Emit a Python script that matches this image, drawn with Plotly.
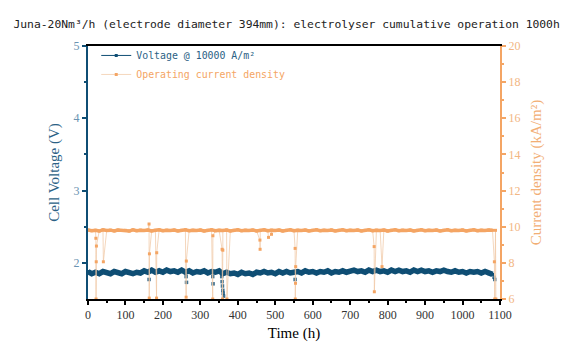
import plotly.graph_objects as go

# ---------------- data ----------------
time_h = [0, 10, 20, 30, 40, 50, 60, 70, 80, 90, 100, 110, 120, 130, 140,
          150, 160, 170, 180, 190, 200, 210, 220, 230, 240, 250,
          260, 270, 280, 290, 300, 310, 320, 330, 340, 350,
          360, 370, 380, 390, 400, 410, 420, 430, 440, 450,
          460, 470, 480, 490, 500, 510, 520, 530, 540, 550,
          560, 570, 580, 590, 600, 610, 620, 630, 640, 650, 660, 670, 680, 690, 700,
          710, 720, 730, 740, 750, 760, 770, 780, 790, 800, 810, 820, 830, 840, 850,
          860, 870, 880, 890, 900, 910, 920, 930, 940, 950, 960,
          970, 980, 990, 1000, 1010, 1020, 1030, 1040, 1050, 1060, 1070, 1080]

voltage = [1.88, 1.85, 1.87, 1.85, 1.88, 1.86, 1.85, 1.88, 1.86, 1.85, 1.88, 1.86, 1.85, 1.87, 1.86,
           1.89, 1.87, 1.90, 1.87, 1.89, 1.87, 1.90, 1.88, 1.89, 1.87, 1.90,
           1.87, 1.89, 1.86, 1.88, 1.87, 1.89, 1.86, 1.88, 1.87, 1.89,
           1.85, 1.87, 1.85, 1.86, 1.84, 1.87, 1.85, 1.86, 1.84, 1.87,
           1.86, 1.88, 1.86, 1.87, 1.85, 1.88, 1.86, 1.88, 1.86, 1.87,
           1.88, 1.86, 1.89, 1.87, 1.88, 1.86, 1.88, 1.87, 1.89, 1.86, 1.88, 1.87, 1.89, 1.87, 1.88,
           1.90, 1.88, 1.89, 1.87, 1.90, 1.88, 1.90, 1.88, 1.89, 1.87, 1.90, 1.88, 1.90, 1.88, 1.89,
           1.87, 1.90, 1.88, 1.90, 1.88, 1.89, 1.87, 1.89, 1.88, 1.90, 1.88,
           1.87, 1.89, 1.87, 1.88, 1.86, 1.88, 1.87, 1.88, 1.86, 1.88, 1.85, 1.84]

current = [9.82, 9.78, 9.80, 9.76, 9.83, 9.79, 9.81, 9.77, 9.82, 9.79, 9.80, 9.76, 9.83, 9.78, 9.81,
           9.79, 9.82, 9.77, 9.80, 9.83, 9.78, 9.81, 9.79, 9.82, 9.77, 9.80,
           9.83, 9.78, 9.81, 9.79, 9.82, 9.76, 9.80, 9.83, 9.78, 9.81,
           9.79, 9.82, 9.77, 9.80, 9.83, 9.78, 9.81, 9.79, 9.82, 9.77,
           9.80, 9.83, 9.78, 9.81, 9.79, 9.82, 9.76, 9.80, 9.83, 9.78,
           9.81, 9.79, 9.82, 9.77, 9.80, 9.83, 9.78, 9.81, 9.79, 9.82, 9.77, 9.80, 9.83, 9.78, 9.81,
           9.79, 9.82, 9.77, 9.80, 9.83, 9.78, 9.81, 9.79, 9.82, 9.76, 9.80, 9.83, 9.78, 9.81, 9.79,
           9.82, 9.77, 9.80, 9.83, 9.78, 9.81, 9.79, 9.82, 9.77, 9.80, 9.83,
           9.78, 9.81, 9.79, 9.82, 9.77, 9.80, 9.83, 9.78, 9.81, 9.79, 9.82, 9.80]

# transient excursions (stops / load changes)
dip_time_v = [163, 262, 263, 333, 334, 357, 358, 359, 360, 361, 362, 553, 1084, 1086]
dip_voltage = [1.77, 1.81, 1.73, 1.81, 1.71, 1.81, 1.74, 1.68, 1.62, 1.58, 1.54, 1.77, 1.80, 1.77]

dip_time_c = [21, 21.5, 22, 22.5, 41, 163, 163.5, 164, 183, 183.5, 262, 262.5, 333, 333.5,
              358, 359, 360, 371, 459, 459.5, 482, 490, 553, 553.5, 554, 554.5,
              764, 764.5, 785, 1085, 1086, 1088, 1089]
dip_current = [9.36, 6.0, 8.06, 8.93, 8.06, 10.15, 6.05, 8.5, 6.05, 8.56, 6.1, 8.1, 6.0, 9.5,
               8.75, 6.0, 8.7, 6.0, 9.26, 8.75, 9.41, 9.58, 8.8, 6.0, 6.87, 7.79,
               8.9, 6.4, 7.79, 8.06, 6.0, 9.8, 6.0]

# ---------------- build ----------------
c_pairs = sorted(zip(time_h + dip_time_c, current + dip_current))
c_t = [p[0] for p in c_pairs]
c_v = [p[1] for p in c_pairs]

BLUE = "#0f4e74"
ORANGE = "#f4a564"
SERIF = "Liberation Serif"
MONO = "DejaVu Sans Mono"

fig = go.Figure()

# orange: thin light connecting line (legend) + thick band
fig.add_trace(go.Scatter(
    x=c_t, y=c_v, yaxis="y2", mode="lines+markers",
    name="<span style='color:#f4a564'>Operating current density</span>",
    line=dict(color="rgba(240,200,165,0.75)", width=1),
    marker=dict(color=ORANGE, size=3, symbol="square"),
    legendrank=2,
))
fig.add_trace(go.Scatter(
    x=time_h, y=current, yaxis="y2", mode="lines", showlegend=False,
    line=dict(color=ORANGE, width=3.5),
))

# blue: thick band + thin legend trace
fig.add_trace(go.Scatter(
    x=time_h, y=voltage, mode="lines", showlegend=False,
    line=dict(color=BLUE, width=5.5),
))
fig.add_trace(go.Scatter(
    x=time_h, y=voltage, mode="lines+markers",
    name="<span style='color:#2b5f85'>Voltage @ 10000 A/m²</span>",
    line=dict(color=BLUE, width=1),
    marker=dict(color=BLUE, size=3, symbol="square"),
    legendrank=1,
))
fig.add_trace(go.Scatter(
    x=dip_time_v, y=dip_voltage, mode="markers", showlegend=False,
    marker=dict(color=BLUE, size=3.5, symbol="square", opacity=0.8),
))

fig.update_layout(
    width=564, height=350,
    margin=dict(l=80, r=72, t=38, b=59, autoexpand=False),
    paper_bgcolor="white", plot_bgcolor="white",
    font=dict(family=SERIF),
    title=dict(
        text="Juna-20Nm³/h (electrode diameter 394mm): electrolyser cumulative operation 1000h",
        x=0.494, xanchor="center", y=0.954, yanchor="middle", yref="container",
        font=dict(family=MONO, size=11.35, color="#222222"),
    ),
    legend=dict(
        x=0.02, y=1.02, xanchor="left", yanchor="top",
        bgcolor="rgba(0,0,0,0)", itemwidth=30, tracegroupgap=0,
        font=dict(family=MONO, size=9.9),
    ),
    xaxis=dict(
        range=[0, 1100], dtick=100, tick0=0, automargin=False,
        showline=True, linecolor="black", linewidth=2, mirror=True,
        ticks="outside", ticklen=4, tickwidth=1.5, tickcolor="black",
        minor=dict(dtick=50, ticks="outside", ticklen=2, tickcolor="black"),
        showgrid=False, zeroline=False,
        tickfont=dict(family=SERIF, size=12, color="#333333"),
        title=dict(text="Time (h)", font=dict(family=SERIF, size=15, color="black"), standoff=6),
    ),
    yaxis=dict(
        range=[1.5, 5], tickvals=[2, 3, 4, 5], automargin=False,
        showline=True, linecolor=BLUE, linewidth=2,
        ticks="outside", ticklen=4, tickwidth=1.5, tickcolor=BLUE,
        minor=dict(tickvals=[2.5, 3.5, 4.5], ticks="outside", ticklen=2, tickcolor=BLUE),
        showgrid=False, zeroline=False,
        tickfont=dict(family=SERIF, size=12, color="#6a93b2"),
        title=dict(text="Cell Voltage (V)", font=dict(family=SERIF, size=15, color="#2b6185"), standoff=10),
    ),
    yaxis2=dict(
        range=[6, 20], dtick=2, tick0=0, overlaying="y", side="right", automargin=False,
        showline=True, linecolor=ORANGE, linewidth=2,
        ticks="outside", ticklen=4, tickwidth=1.5, tickcolor=ORANGE,
        minor=dict(dtick=1, ticks="outside", ticklen=2, tickcolor=ORANGE),
        showgrid=False, zeroline=False,
        tickfont=dict(family=SERIF, size=12, color="#f2b683"),
        title=dict(text="Current density (kA/m²)", font=dict(family=SERIF, size=15, color="#f2ae74"), standoff=11),
    ),
)

fig.write_html("out.html")
